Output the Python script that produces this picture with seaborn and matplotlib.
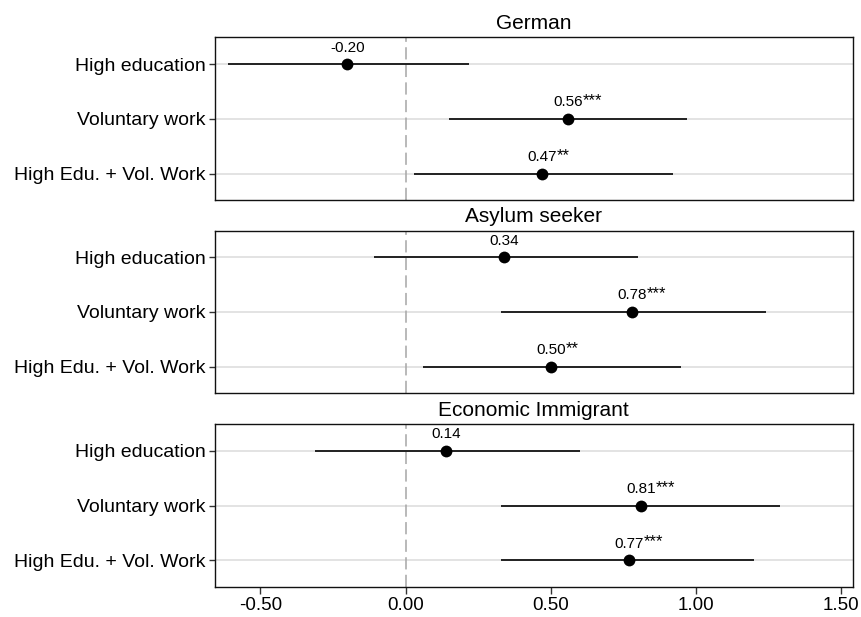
import matplotlib
matplotlib.use("Agg")
import matplotlib.pyplot as plt
import seaborn as sns
import pandas as pd

# Coefficient estimates with 95% confidence intervals, per target group
groups = ["German", "Asylum seeker", "Economic Immigrant"]
terms = ["High education", "Voluntary work", "High Edu. + Vol. Work"]

german_est = [-0.20, 0.56, 0.47]
german_lo = [-0.61, 0.15, 0.03]
german_hi = [0.22, 0.97, 0.92]
german_sig = ["", "***", "**"]

asylum_est = [0.34, 0.78, 0.50]
asylum_lo = [-0.11, 0.33, 0.06]
asylum_hi = [0.80, 1.24, 0.95]
asylum_sig = ["", "***", "**"]

econ_est = [0.14, 0.81, 0.77]
econ_lo = [-0.31, 0.33, 0.33]
econ_hi = [0.60, 1.29, 1.20]
econ_sig = ["", "***", "***"]

x_ticks = [-0.50, 0.00, 0.50, 1.00, 1.50]

panels = [
    (groups[0], german_est, german_lo, german_hi, german_sig),
    (groups[1], asylum_est, asylum_lo, asylum_hi, asylum_sig),
    (groups[2], econ_est, econ_lo, econ_hi, econ_sig),
]

sns.set_theme(style="white")
plt.rcParams["font.family"] = ["Liberation Sans", "DejaVu Sans"]
plt.rcParams["text.color"] = "black"
plt.rcParams["axes.titlecolor"] = "black"

fig = plt.figure(figsize=(8.61, 6.17), dpi=100)
left, width = 0.2494, 0.7413
boxes = [(0.6759, 0.2636), (0.3635, 0.2626), (0.0491, 0.2637)]

VALUE_FS = 11
STAR_FS = 12

for i, ((name, est, lo, hi, sig), (bottom, height)) in enumerate(zip(panels, boxes)):
    ax = fig.add_axes([left, bottom, width, height])
    df = pd.DataFrame({"term": terms, "est": est, "lo": lo, "hi": hi, "sig": sig})

    ax.axvline(0, color="#a6a6a6", lw=1.1, ls=(0, (8, 3.5)), zorder=1)
    ax.hlines(y=range(len(df)), xmin=df["lo"], xmax=df["hi"],
              color="black", lw=1.2, zorder=2)
    sns.stripplot(data=df, x="est", y="term", order=terms, jitter=False,
                  color="black", size=8.5, linewidth=0, ax=ax, zorder=3)

    for j, row in df.iterrows():
        ax.annotate(f"{row['est']:.2f}", (row["est"], j), xytext=(0, 9),
                    textcoords="offset points", ha="center", va="baseline",
                    fontsize=VALUE_FS, color="black")
        if row["sig"]:
            ax.annotate(row["sig"], (row["est"], j), xytext=(10.8, 10),
                        textcoords="offset points", ha="left", va="baseline",
                        fontsize=STAR_FS, color="black")

    ax.set_ylim(2.48, -0.49)
    ax.set_xlim(-0.657, 1.541)
    ax.set_axisbelow(True)
    ax.yaxis.grid(True, color="#e0e0e0", lw=1.3)
    ax.xaxis.grid(False)
    ax.set_xlabel("")
    ax.set_ylabel("")
    ax.set_title(name, fontsize=15, pad=6, color="black")

    ax.set_xticks(x_ticks)
    ax.set_xticklabels([f"{t:.2f}" for t in x_ticks])
    ax.tick_params(axis="y", left=True, length=4.5, width=1, color="#333333",
                   pad=2, labelsize=14, labelcolor="black")
    if i < 2:
        ax.tick_params(axis="x", bottom=False, labelbottom=False)
    else:
        ax.tick_params(axis="x", bottom=True, length=5, width=1, color="#333333",
                       pad=2.5, labelsize=13.5, labelcolor="black")

    for s in ax.spines.values():
        s.set_color("#111111")
        s.set_linewidth(1.0)

fig.savefig("out.png", dpi=100)
